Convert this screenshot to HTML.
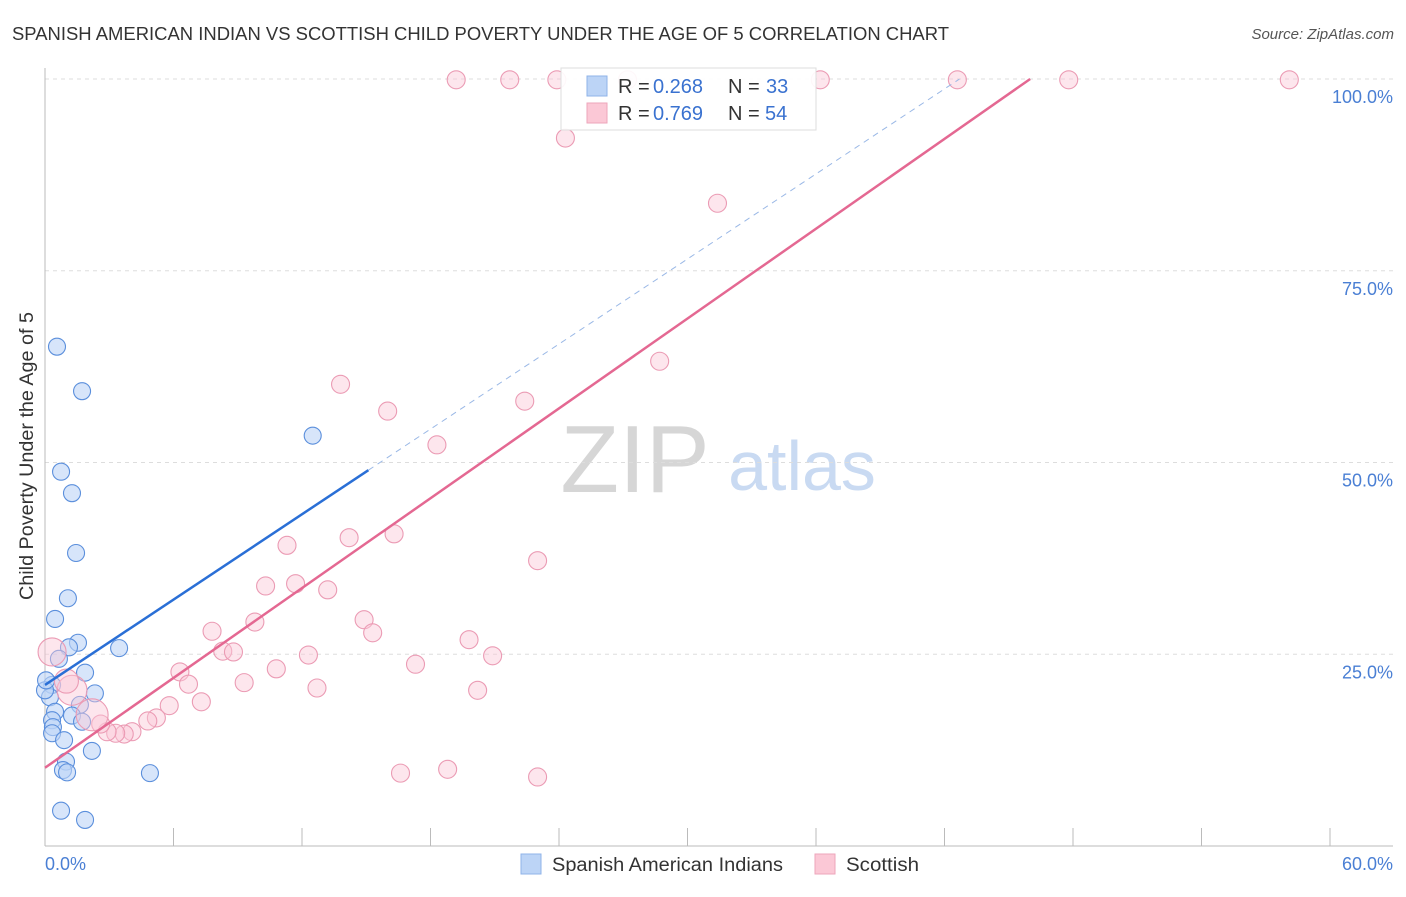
<!DOCTYPE html>
<html><head><meta charset="utf-8"><style>
body{margin:0;background:#fff;font-family:"Liberation Sans",sans-serif;}
svg text{font-family:"Liberation Sans",sans-serif;}
</style></head><body>
<svg width="1406" height="892" xmlns="http://www.w3.org/2000/svg">
<text x="12" y="40" font-size="18" fill="#333" textLength="937" lengthAdjust="spacingAndGlyphs">SPANISH AMERICAN INDIAN VS SCOTTISH CHILD POVERTY UNDER THE AGE OF 5 CORRELATION CHART</text>
<text x="1394" y="39" font-size="15" fill="#555" font-style="italic" text-anchor="end">Source: ZipAtlas.com</text>
<text x="635" y="492" font-size="96" fill="#d6d6d6" font-family="Liberation Serif" text-anchor="middle">ZIP</text>
<text x="802" y="490" font-size="70" fill="#c9daf2" text-anchor="middle">atlas</text>
<g id="grid"></g>
<g id="axes"></g>
<g id="marks"></g>
<text transform="translate(33,456) rotate(-90)" font-size="19" fill="#333" text-anchor="middle" textLength="288" lengthAdjust="spacingAndGlyphs">Child Poverty Under the Age of 5</text>
<text x="45" y="870" font-size="18" fill="#4a7fd4">0.0%</text>
<text x="1393" y="870" font-size="18" fill="#4a7fd4" text-anchor="end">60.0%</text>
<g>
<rect x="521" y="854" width="20" height="20" fill="#bcd4f6" stroke="#8fb3e8"/>
<text x="552" y="871" font-size="19" fill="#333" textLength="231" lengthAdjust="spacingAndGlyphs">Spanish American Indians</text>
<rect x="815" y="854" width="20" height="20" fill="#fbc8d6" stroke="#eea6bb"/>
<text x="846" y="871" font-size="19" fill="#333" textLength="73" lengthAdjust="spacingAndGlyphs">Scottish</text>
</g>
<g>
<rect x="561" y="68" width="255" height="62" fill="#fff" fill-opacity="0.92" stroke="#ddd"/>
<rect x="587" y="76" width="20" height="20" fill="#bcd4f6" stroke="#8fb3e8"/>
<text x="618" y="93" font-size="20" fill="#333">R =</text>
<text x="653" y="93" font-size="20" fill="#3a72d0">0.268</text>
<text x="728" y="93" font-size="20" fill="#333">N =</text>
<text x="766" y="93" font-size="20" fill="#3a72d0">33</text>
<rect x="587" y="103" width="20" height="20" fill="#fbc8d6" stroke="#eea6bb"/>
<text x="618" y="120" font-size="20" fill="#333">R =</text>
<text x="653" y="120" font-size="20" fill="#3a72d0">0.769</text>
<text x="728" y="120" font-size="20" fill="#333">N =</text>
<text x="765" y="120" font-size="20" fill="#3a72d0">54</text>
</g>
</svg>
<script>
const yTicks=[25,50,75,100];
const yTickLabels=["25.0%","50.0%","75.0%","100.0%"];
const xTicks=[0,6,12,18,24,30,36,42,48,54,60];
const blueX=[0.56,1.73,12.5,0.75,1.26,1.45,1.07,0.47,1.54,1.12,3.46,0.65,1.87,0.33,2.33,0.23,1.63,0.47,1.26,0.33,1.73,0.37,0.33,0.89,2.19,0.98,0.84,1.03,4.9,0.75,1.87,0,0.05];
const blueY=[65.1,59.3,53.5,48.8,46.0,38.2,32.3,29.6,26.5,25.9,25.8,24.4,22.6,21.0,19.9,19.4,18.4,17.5,17.0,16.4,16.2,15.5,14.7,13.8,12.4,11.0,9.9,9.6,9.5,4.6,3.4,20.3,21.6];
const pinkX=[19.2,21.7,23.9,27.2,36.2,42.6,47.8,58.1,24.3,31.4,28.7,13.8,16.0,22.4,18.3,14.2,16.3,11.3,23.0,10.3,11.7,13.2,14.9,9.8,15.3,7.8,19.8,8.3,8.8,12.3,20.9,17.3,10.8,6.3,6.7,9.3,12.7,20.2,7.3,5.8,5.2,4.8,4.06,3.7,3.3,2.9,2.6,2.2,1.26,0.33,1.0,16.6,18.8,23.0];
const pinkY=[99.9,99.9,99.9,99.9,99.9,99.9,99.9,99.9,92.3,83.8,63.2,60.2,56.7,58.0,52.3,40.2,40.7,39.2,37.2,33.9,34.2,33.4,29.5,29.2,27.8,28.0,26.9,25.4,25.3,24.9,24.8,23.7,23.1,22.7,21.1,21.3,20.6,20.3,18.8,18.3,16.7,16.3,14.9,14.6,14.7,14.9,15.9,17.1,20.3,25.3,21.5,9.5,10.0,9.0];
const pinkR=[9,9,9,9,9,9,9,9,9,9,9,9,9,9,9,9,9,9,9,9,9,9,9,9,9,9,9,9,9,9,9,9,9,9,9,9,9,9,9,9,9,9,9,9,9,9,9,16,15,14,12,9,9,9];
const blueLine=[[0,21.0],[15.1,49.0]];
const blueDash=[[15.1,49.0],[42.7,100]];
const pinkLine=[[0,10.2],[46.0,100]];
const NS="http://www.w3.org/2000/svg";
const xs=v=>45+v/60*1285, ys=v=>846-v/100*767;
function mk(t,a,p){const e=document.createElementNS(NS,t);for(const k in a)e.setAttribute(k,a[k]);document.getElementById(p).appendChild(e);return e;}
yTicks.forEach((t,i)=>{
 const l=mk('line',{x1:45,x2:1393,y1:ys(t),y2:ys(t),stroke:'#ddd','stroke-dasharray':'4,4'},'grid');
 
 
 const tx=mk('text',{x:1393,y:ys(t)+24,'font-size':18,fill:'#4a7fd4','text-anchor':'end'},'axes');
 tx.textContent=yTickLabels[i];
 
 
});
const ax=mk('line',{x1:45,x2:45,y1:68,y2:846,stroke:'#bbb'},'axes');


const bx=mk('line',{x1:45,x2:1393,y1:846,y2:846,stroke:'#bbb'},'axes');


xTicks.forEach(t=>{
 const l=mk('line',{x1:xs(t),x2:xs(t),y1:828,y2:846,stroke:'#bbb'},'axes');
 
 
});
blueX.forEach((v,i)=>{
 const c=mk('circle',{cx:xs(v),cy:ys(blueY[i]),r:8.5,fill:'#bcd4f6','fill-opacity':0.6,stroke:'#5b8fdc','stroke-width':1.1},'marks');
 
 
});
pinkX.forEach((v,i)=>{
 const c=mk('circle',{cx:xs(v),cy:ys(pinkY[i]),r:pinkR[i],fill:'#fbc8d6','fill-opacity':0.45,stroke:'#eb9bb4','stroke-width':1.1},'marks');
 
 
});
const l1=mk('line',{x1:xs(blueLine[0][0]),y1:ys(blueLine[0][1]),x2:xs(blueLine[1][0]),y2:ys(blueLine[1][1]),stroke:'#2a6fd6','stroke-width':2.5},'marks');


const l2=mk('line',{x1:xs(blueDash[0][0]),y1:ys(blueDash[0][1]),x2:xs(blueDash[1][0]),y2:ys(blueDash[1][1]),stroke:'#9ab8e6','stroke-width':1,'stroke-dasharray':'6,5'},'marks');


const l3=mk('line',{x1:xs(pinkLine[0][0]),y1:ys(pinkLine[0][1]),x2:xs(pinkLine[1][0]),y2:ys(pinkLine[1][1]),stroke:'#e46892','stroke-width':2.5},'marks');


</script>
</body></html>
